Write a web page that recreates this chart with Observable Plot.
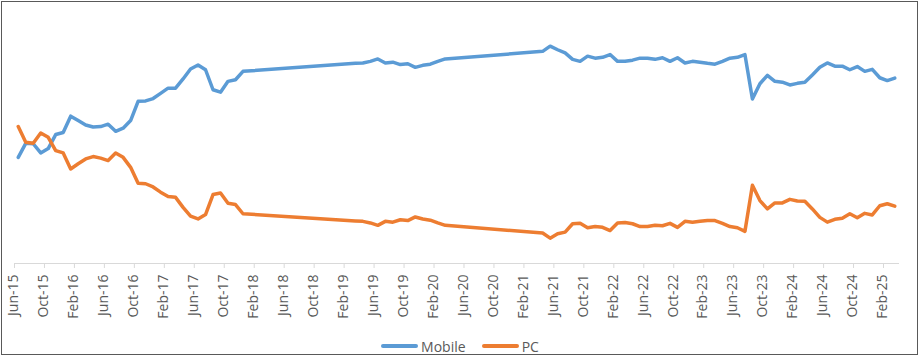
<!DOCTYPE html>
<html>
<head>
<meta charset="utf-8">
<script src="https://cdn.jsdelivr.net/npm/d3@7"></script>
<script src="https://cdn.jsdelivr.net/npm/@observablehq/plot@0.6"></script>
<style>
  html, body { margin: 0; padding: 0; background: #fff; }
  #wrap { position: relative; width: 920px; height: 357px; overflow: hidden; font-family: "Open Sans", sans-serif; }
  #chart { position: absolute; left: 0; top: 0; }
  #border { position: absolute; left: 1px; top: 1px; width: 915px; height: 352px; border: 1.5px solid #595959; pointer-events: none; }
  #legend { position: absolute; left: 0; top: 336px; width: 920px; height: 20px; display: flex; justify-content: center; align-items: center; font-size: 14px; color: #595959; }
  .item { display: flex; align-items: center; margin: 0 8px; }
  .sw { width: 37px; height: 4px; border-radius: 2px; margin-right: 3px; }
</style>
</head>
<body>
<div id="wrap">
  <div id="chart"></div>
  <div id="legend"></div>
  <div id="border"></div>
</div>
<script>
const months = [
  "2015-06","2015-07","2015-08","2015-09","2015-10","2015-11","2015-12",
  "2016-01","2016-02","2016-03","2016-04","2016-05","2016-06","2016-07","2016-08","2016-09","2016-10","2016-11","2016-12",
  "2017-01","2017-02","2017-03","2017-04","2017-05","2017-06","2017-07","2017-08","2017-09","2017-10","2017-11","2017-12",
  "2019-03","2019-04","2019-05","2019-06","2019-07","2019-08","2019-09","2019-10","2019-11","2019-12",
  "2020-01","2020-02","2020-03",
  "2021-04","2021-05","2021-06","2021-07","2021-08","2021-09","2021-10","2021-11","2021-12",
  "2022-01","2022-02","2022-03","2022-04","2022-05","2022-06","2022-07","2022-08","2022-09","2022-10","2022-11","2022-12",
  "2023-01","2023-02","2023-03","2023-04","2023-05","2023-06","2023-07","2023-08","2023-09","2023-10","2023-11","2023-12",
  "2024-01","2024-02","2024-03","2024-04","2024-05","2024-06","2024-07","2024-08","2024-09","2024-10","2024-11","2024-12",
  "2025-01","2025-02","2025-03"
];
const mobile = [
  46.2, 49.7, 49.6, 47.3, 48.4, 51.9, 52.4,
  56.5, 55.4, 54.3, 53.8, 53.9, 54.5, 52.7, 53.5, 55.4, 60.2, 60.3, 60.9,
  62.2, 63.5, 63.5, 65.8, 68.3, 69.3, 68.1, 63.1, 62.5, 65.2, 65.6, 67.7,
  69.7, 69.8, 70.2, 70.8, 69.8, 70.0, 69.4, 69.6, 68.7, 69.2,
  69.5, 70.2, 70.8,
  72.7, 74.0, 73.1, 72.3, 70.7, 70.2, 71.5, 71.0, 71.2,
  71.9, 70.2, 70.2, 70.5, 71.0, 71.0, 70.7, 71.1, 70.2, 71.1, 69.8, 70.2,
  70.0, 69.7, 69.5, 70.2, 71.0, 71.2, 71.9, 60.8, 64.6, 66.7, 65.2, 65.0,
  64.3, 64.7, 65.0, 66.8, 68.7, 69.8, 69.0, 69.0, 68.1, 68.9, 67.7, 68.2,
  66.1, 65.4, 66.0
];
const pc = [
  53.9, 50.0, 49.7, 52.3, 51.2, 47.9, 47.3,
  43.3, 44.6, 45.8, 46.4, 46.0, 45.4, 47.3, 46.2, 43.7, 39.7, 39.6, 38.8,
  37.5, 36.4, 36.2, 33.7, 31.5, 30.8, 31.9, 36.9, 37.3, 34.7, 34.4, 32.1,
  30.3, 30.2, 29.8, 29.2, 30.2, 30.0, 30.6, 30.4, 31.3, 30.8,
  30.5, 29.8, 29.2,
  27.3, 26.0, 27.1, 27.5, 29.6, 29.7, 28.6, 28.9, 28.7,
  27.9, 29.8, 29.9, 29.6, 28.9, 28.9, 29.2, 29.1, 29.7, 28.7, 30.2, 30.0,
  30.2, 30.4, 30.4, 29.7, 28.9, 28.6, 27.7, 39.2, 35.4, 33.3, 34.8, 34.8,
  35.7, 35.3, 35.2, 33.3, 31.2, 30.0, 30.7, 31.0, 32.1, 31.1, 32.2, 31.8,
  34.1, 34.6, 34.0
];
const tickLabels = [
  "Jun-15","Oct-15","Feb-16","Jun-16","Oct-16","Feb-17","Jun-17","Oct-17",
  "Feb-18","Jun-18","Oct-18","Feb-19","Jun-19","Oct-19","Feb-20","Jun-20",
  "Oct-20","Feb-21","Jun-21","Oct-21","Feb-22","Jun-22","Oct-22","Feb-23",
  "Jun-23","Oct-23","Feb-24","Jun-24","Oct-24","Feb-25"
];
const seriesNames = ["Mobile", "PC"];
const seriesColors = ["#5B9BD5", "#ED7D31"];

// month index since Jun-2015
const mIndex = s => { const [y, m] = s.split("-").map(Number); return (y - 2015) * 12 + (m - 6); };
const mon = {Jan:1,Feb:2,Mar:3,Apr:4,May:5,Jun:6,Jul:7,Aug:8,Sep:9,Oct:10,Nov:11,Dec:12};
const labelIndex = l => { const [a, b] = l.split("-"); return (2000 + +b - 2015) * 12 + (mon[a] - 6); };

const rows = months.map((m, i) => ({x: mIndex(m) + 0.5, mobile: mobile[i], pc: pc[i]}));
const labelData = tickLabels.map(l => ({x: labelIndex(l) + 0.5, label: l}));
const tickIdx = tickLabels.map(l => labelIndex(l));

const lineOpts = {strokeWidth: 3.5, strokeLinejoin: "round", strokeLinecap: "round"};

const chart = Plot.plot({
  width: 920,
  height: 335,
  marginLeft: 14,
  marginRight: 22,
  marginTop: 10,
  marginBottom: 72,
  x: {type: "linear", domain: [0, 118], axis: null, label: null},
  y: {domain: [20, 80], range: [261.65, 21.65], axis: null, label: null},
  style: {fontFamily: "Open Sans, sans-serif", background: "transparent", overflow: "visible"},
  marks: [
    Plot.frame({anchor: "bottom", stroke: "#d9d9d9", strokeWidth: 1}),
    Plot.axisX(tickIdx, {tickSize: 5, tickFormat: () => "", stroke: "#d9d9d9", label: null}),
    Plot.text(labelData, {x: "x", text: "label", frameAnchor: "bottom", rotate: -90, textAnchor: "end", dy: 11, fontSize: 14, fill: "#595959"}),
    Plot.line(rows, {x: "x", y: "mobile", stroke: seriesColors[0], ...lineOpts}),
    Plot.line(rows, {x: "x", y: "pc", stroke: seriesColors[1], ...lineOpts})
  ]
});
document.getElementById("chart").appendChild(chart);

const legend = document.getElementById("legend");
seriesNames.forEach((n, i) => {
  const it = document.createElement("div");
  it.className = "item";
  const sw = document.createElement("span");
  sw.className = "sw";
  sw.style.background = seriesColors[i];
  const t = document.createElement("span");
  t.textContent = n;
  it.appendChild(sw); it.appendChild(t);
  legend.appendChild(it);
});
</script>
</body>
</html>
